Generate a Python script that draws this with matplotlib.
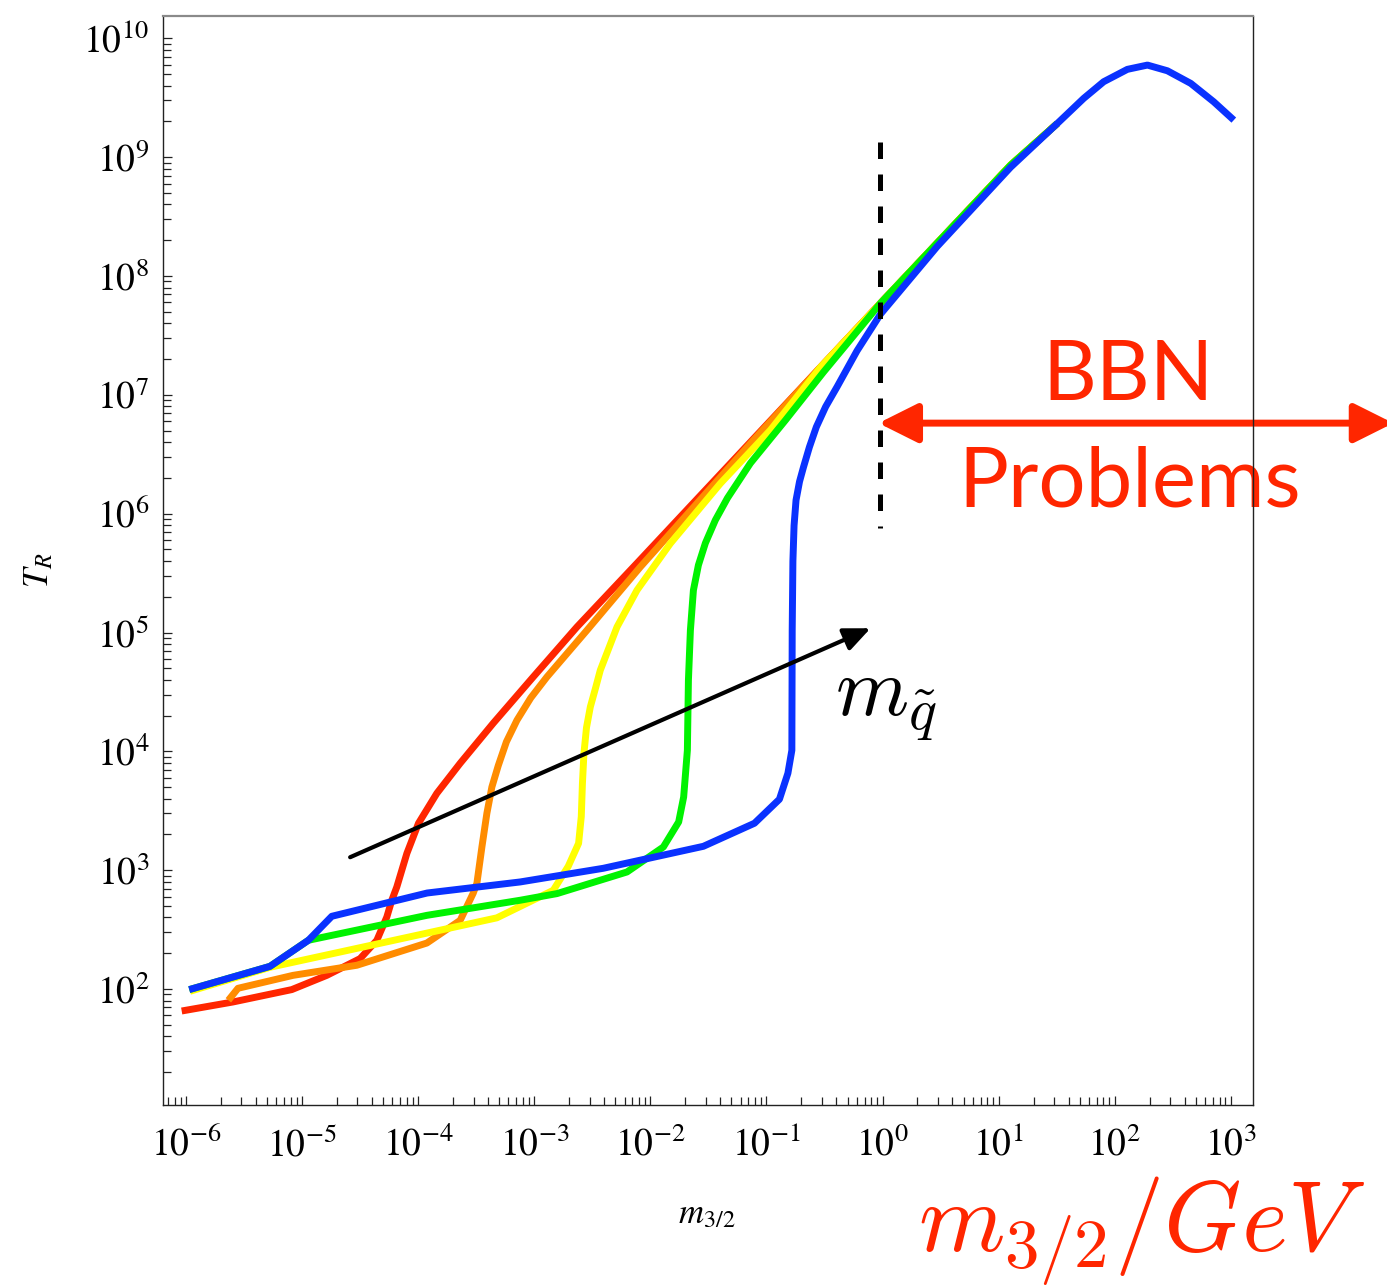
import numpy as np
import matplotlib.pyplot as plt
from matplotlib.patches import FancyArrowPatch
from matplotlib.ticker import LogLocator, FuncFormatter, NullFormatter

plt.rcParams.update({
    "mathtext.fontset": "stix",
    "font.family": "serif",
    "font.serif": ["Liberation Serif", "DejaVu Serif"],
})

# curves, stored as log10(m_3/2) and log10(T_R)
red_lx = [-6.037, -5.595, -5.089, -4.787, -4.5, -4.356, -4.270, -4.227, -4.184,
          -4.097, -3.997, -3.839, -3.638, -3.353, -3.009, -2.632, -2.115,
          -0.534, -0.017, 1.103, 1.506]
red_ly = [1.815, 1.891, 1.995, 2.115, 2.256, 2.410, 2.606, 2.747, 2.859,
          3.142, 3.395, 3.647, 3.900, 4.237, 4.626, 5.047, 5.583,
          7.233, 7.772, 8.933, 9.284]

orange_lx = [-5.635, -5.552, -5.078, -4.528, -3.925, -3.638, -3.526, -3.494,
             -3.451, -3.408, -3.365, -3.310, -3.240, -3.149, -3.030, -2.891,
             -2.546, -2.086, -1.112, -0.534, -0.017, 1.103, 1.506]
orange_ly = [1.905, 2.006, 2.115, 2.200, 2.387, 2.578, 2.806, 2.890,
             3.195, 3.479, 3.700, 3.880, 4.080, 4.262, 4.450, 4.626,
             5.019, 5.552, 6.619, 7.233, 7.772, 8.933, 9.284]

yellow_lx = [-5.966, -5.276, -4.5, -3.322, -2.836, -2.707, -2.618, -2.595,
             -2.585, -2.572, -2.550, -2.517, -2.470, -2.431, -2.287, -2.115,
             -1.828, -1.397, -0.966, -0.534, -0.017, 1.103, 1.506]
yellow_ly = [1.981, 2.183, 2.348, 2.599, 2.831, 3.033, 3.226, 3.450,
             3.731, 3.984, 4.200, 4.374, 4.540, 4.683, 5.047, 5.356,
             5.749, 6.254, 6.703, 7.233, 7.772, 8.933, 9.284]

green_lx = [-5.972, -5.276, -4.946, -3.925, -3.121, -2.804, -2.201, -1.888,
            -1.756, -1.713, -1.681, -1.672, -1.655, -1.629, -1.586, -1.526,
            -1.440, -1.336, -1.138, -0.836, -0.509, -0.017, 1.103, 1.506]
green_ly = [1.995, 2.191, 2.410, 2.620, 2.747, 2.803, 2.985, 3.195,
            3.406, 3.616, 4.009, 4.598, 5.019, 5.356, 5.567, 5.752,
            5.946, 6.131, 6.425, 6.787, 7.191, 7.772, 8.933, 9.284]

blue_lx = [-5.972, -5.276, -4.946, -4.744, -3.922, -3.121, -2.405, -1.543,
           -1.103, -0.888, -0.815, -0.781, -0.778, -0.772, -0.762, -0.745,
           -0.715, -0.681, -0.630, -0.570, -0.490, -0.390, -0.220, -0.017,
           0.472, 1.103, 1.506, 1.733, 1.905, 2.109, 2.282, 2.454, 2.655,
           2.853, 3.026]
blue_ly = [1.995, 2.191, 2.410, 2.612, 2.808, 2.901, 3.016, 3.201,
           3.395, 3.597, 3.816, 4.009, 5.019, 5.600, 5.900, 6.114,
           6.270, 6.391, 6.560, 6.730, 6.900, 7.070, 7.370, 7.680,
           8.250, 8.915, 9.284, 9.495, 9.635, 9.739, 9.775, 9.727, 9.621,
           9.466, 9.312]

# annotations (log10 coordinates)
bbn_x = -0.025
bbn_y_top, bbn_y_bottom = 9.130, 5.878
arrow_y = 6.762
arrow_left, arrow_right = -0.035, 4.40
msq_start = (-4.586, 3.109)
msq_end = (-0.103, 5.036)

red = "#ff2600"
colors = {"red": red, "orange": "#ff8c00", "yellow": "#ffff00",
          "green": "#00f200", "blue": "#0a32ff"}

fig = plt.figure(figsize=(13.87, 12.88), dpi=100)
ax = fig.add_axes([163 / 1387, 1 - 1105 / 1288, (1252.5 - 163) / 1387, (1105 - 16) / 1288])

curves = [
    (red_lx, red_ly, colors["red"]),
    (orange_lx, orange_ly, colors["orange"]),
    (yellow_lx, yellow_ly, colors["yellow"]),
    (green_lx, green_ly, colors["green"]),
    (blue_lx, blue_ly, colors["blue"]),
]
for lx, ly, c in curves:
    ax.plot(10 ** np.array(lx), 10 ** np.array(ly), color=c, lw=5,
            solid_joinstyle="round", solid_capstyle="butt", zorder=2)

ax.plot([10 ** bbn_x] * 2, [10 ** bbn_y_top, 10 ** bbn_y_bottom], color="black",
        lw=3.6, ls=(0, (3.3, 3.1)), dash_capstyle="butt", zorder=4)

ax.set_xscale("log")
ax.set_yscale("log")
ax.set_xlim(10 ** -6.198, 10 ** 3.187)
ax.set_ylim(10 ** 1.024, 10 ** 10.188)

ax.set_xticks([10.0 ** k for k in range(-6, 4)])
ax.set_yticks([10.0 ** k for k in range(2, 11)])
fmt = FuncFormatter(lambda v, p: r"$10^{%d}$" % int(round(np.log10(v))))
for axis in (ax.xaxis, ax.yaxis):
    axis.set_minor_locator(LogLocator(base=10, subs=np.arange(2, 10), numticks=300))
    axis.set_major_formatter(fmt)
    axis.set_minor_formatter(NullFormatter())

ax.tick_params(which="both", direction="in", top=False, right=False, width=0.9, color="#222222")
ax.tick_params(which="major", length=6.5, labelsize=27)
ax.tick_params(which="minor", length=5.5)
ax.tick_params(axis="x", pad=16)
ax.tick_params(axis="y", pad=10)
for side in ("left", "bottom", "right"):
    ax.spines[side].set_linewidth(1.0)
    ax.spines[side].set_color("#222222")
ax.spines["top"].set_linewidth(1.6)
ax.spines["top"].set_color("#8a8a8a")

# black arrow and squark mass label
ax.add_patch(FancyArrowPatch(
    (10 ** msq_start[0], 10 ** msq_start[1]), (10 ** msq_end[0], 10 ** msq_end[1]),
    arrowstyle="-|>,head_length=16,head_width=7", mutation_scale=1,
    lw=3, color="black", shrinkA=0, shrinkB=0, zorder=5))
fig.text(835 / 1387, 1 - 715 / 1288, r"$m_{\tilde{q}}$", fontsize=60,
         math_fontfamily="cm", ha="left", va="baseline")

# BBN problems region
ax.add_patch(FancyArrowPatch(
    (10 ** arrow_left, 10 ** arrow_y), (10 ** arrow_right, 10 ** arrow_y),
    arrowstyle="<|-|>,head_length=24,head_width=12", mutation_scale=1,
    lw=5, color=red, shrinkA=0, shrinkB=0, clip_on=False, zorder=2.4))
ax.text(1128 / 1387, 1 - 400 / 1288, "BBN", transform=fig.transFigure,
        fontsize=60, family="Lato", color=red, ha="center", va="baseline", zorder=2.4)
ax.text(1130 / 1387, 1 - 507 / 1288, "Problems", transform=fig.transFigure,
        fontsize=60, family="Lato", color=red, ha="center", va="baseline", zorder=2.4)

# axis labels
fig.text(707 / 1387, 1 - 1215 / 1288, r"$m_{3/2}$", fontsize=25, ha="center", va="center")
fig.text(40 / 1387, 1 - 570 / 1288, r"$T_R$", fontsize=25, rotation=90, ha="center", va="center")
fig.text(1365 / 1387, 1 - 1252 / 1288, r"$m_{3/2}/GeV$", fontsize=71,
         math_fontfamily="cm", color=red, ha="right", va="baseline")

fig.savefig("out.png", dpi=100, facecolor="white")
